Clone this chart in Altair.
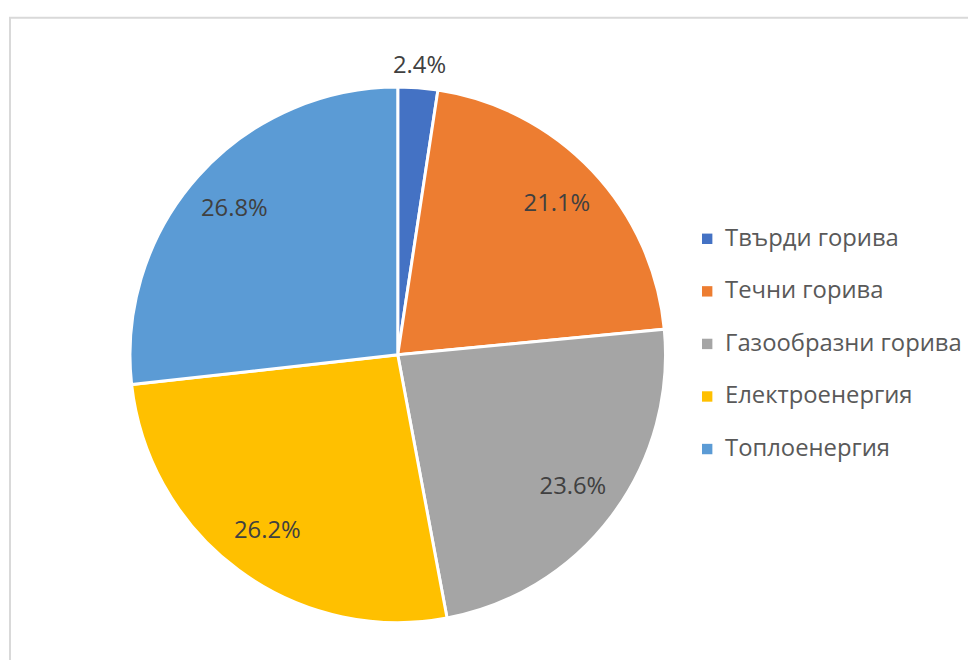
import altair as alt
import pandas as pd

categories = ["Твърди горива", "Течни горива", "Газообразни горива", "Електроенергия", "Топлоенергия"]
values = [2.4, 21.1, 23.6, 26.2, 26.8]
labels = ["2.4%", "21.1%", "23.6%", "26.2%", "26.8%"]
colors = ["#4472C4", "#ED7D31", "#A5A5A5", "#FFC000", "#5B9BD5"]

df = pd.DataFrame({"cat": categories, "value": values, "label": labels, "order": list(range(len(values)))})

CX, CY, R = 393, 347, 270
FONT = "Open Sans"
FS = 24

base = alt.Chart(df).encode(
    theta=alt.Theta("value:Q", stack=True),
    order=alt.Order("order:Q"),
    x=alt.value(CX),
    y=alt.value(CY),
)

pie = base.mark_arc(outerRadius=R, stroke="white", strokeWidth=3).encode(
    color=alt.Color(
        "cat:N",
        scale=alt.Scale(domain=categories, range=colors),
        sort=categories,
        legend=alt.Legend(
            title=None,
            orient="none",
            legendX=693,
            legendY=218,
            symbolType="square",
            symbolSize=110,
            symbolStrokeWidth=0,
            labelFont=FONT,
            labelFontSize=FS,
            labelColor="#595959",
            labelLimit=400,
            rowPadding=29,
            labelOffset=6,
            symbolOffset=0,
        ),
    )
)

text_in = base.mark_text(radius=221, font=FONT, fontSize=FS, color="#404040").encode(
    text="t:N"
).transform_calculate(t="datum.value >= 5 ? datum.label : ''")

text_out = base.mark_text(radius=292, font=FONT, fontSize=FS, color="#404040").encode(
    text="t:N"
).transform_calculate(t="datum.value < 5 ? datum.label : ''")

border = alt.Chart(df).mark_rect(fill=None, stroke="#D9D9D9", strokeWidth=2).encode(
    x=alt.value(2), x2=alt.value(1100), y=alt.value(7), y2=alt.value(1100)
).transform_filter("datum.order == 0")

chart = alt.layer(border, pie, text_in, text_out).properties(
    width=968, height=652, padding=0, autosize="none"
).configure_view(stroke=None)

chart.save("out.html", embed_options={"renderer": "svg", "actions": False})
